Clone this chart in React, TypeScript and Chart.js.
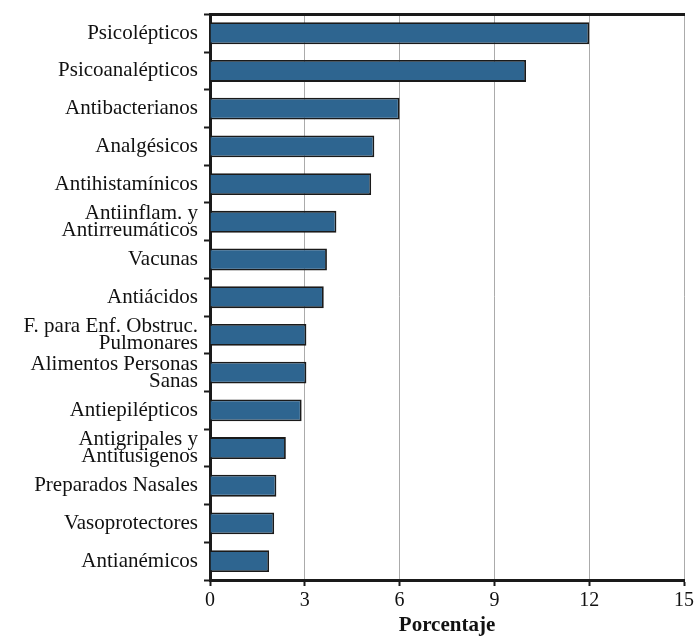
import React, { useEffect, useRef } from "react";
import { Chart, registerables } from "chart.js";

Chart.register(...registerables);

const categories: (string | string[])[] = [
  "Psicolépticos",
  "Psicoanalépticos",
  "Antibacterianos",
  "Analgésicos",
  "Antihistamínicos",
  ["Antiinflam. y", "Antirreumáticos"],
  "Vacunas",
  "Antiácidos",
  ["F. para Enf. Obstruc.", "Pulmonares"],
  ["Alimentos Personas", "Sanas"],
  "Antiepilépticos",
  ["Antigripales y", "Antitusigenos"],
  "Preparados Nasales",
  "Vasoprotectores",
  "Antianémicos",
];

const percentages = [12.0, 10.0, 6.0, 5.2, 5.1, 4.0, 3.7, 3.6, 3.05, 3.05, 2.9, 2.4, 2.1, 2.03, 1.87];

const xMin = 0;
const xMax = 15;
const xStep = 3;
const xTitle = "Porcentaje";

const FONT = "'Liberation Serif', 'Times New Roman', serif";

export default function App() {
  const ref = useRef<HTMLCanvasElement | null>(null);

  useEffect(() => {
    document.body.style.margin = "0";
    const canvas = ref.current;
    if (!canvas) return;
    const chart = new Chart(canvas, {
      type: "bar",
      data: {
        labels: categories,
        datasets: [
          {
            data: percentages,
            backgroundColor: "#2e6590",
            borderColor: "#1a1a1a",
            borderWidth: 1.8,
            barPercentage: 0.58,
            categoryPercentage: 1,
            xAxisID: "x",
          },
        ],
      },
      options: {
        indexAxis: "y",
        animation: false,
        responsive: true,
        maintainAspectRatio: false,
        layout: { padding: { left: 0, right: 15, top: 0, bottom: 0 } },
        plugins: {
          legend: { display: false },
          tooltip: { enabled: false },
        },
        scales: {
          x: {
            type: "linear",
            position: "bottom",
            min: xMin,
            max: xMax,
            ticks: {
              stepSize: xStep,
              color: "#111",
              font: { family: FONT, size: 20 },
              padding: 3,
            },
            grid: {
              color: "#ababab",
              lineWidth: 1,
              drawTicks: true,
              tickLength: 6,
              tickColor: "#1a1a1a",
              tickWidth: 2,
            },
            border: { display: true, color: "#1a1a1a", width: 3 },
            title: {
              display: true,
              text: xTitle,
              color: "#111",
              font: { family: FONT, size: 21, weight: "bold", lineHeight: 1 },
              padding: { top: 0, bottom: 1 },
            },
            afterFit: (scale: any) => {
              scale.height = 57;
            },
          },
          xTop: {
            type: "linear",
            position: "top",
            min: xMin,
            max: xMax,
            ticks: { display: false },
            grid: { display: false },
            border: { display: true, color: "#1a1a1a", width: 3 },
            afterFit: (scale: any) => {
              scale.height = 13;
            },
          },
          y: {
            type: "category",
            position: "left",
            ticks: {
              color: "#111",
              font: { family: FONT, size: 21, lineHeight: 0.8 },
              padding: 6,
              autoSkip: false,
            },
            grid: {
              offset: true,
              drawOnChartArea: false,
              drawTicks: true,
              tickLength: 6,
              tickColor: "#1a1a1a",
              tickWidth: 2,
            },
            border: { display: true, color: "#1a1a1a", width: 3 },
            afterFit: (scale: any) => {
              scale.width = 210;
            },
          },
        },
      } as any,
    });
    return () => chart.destroy();
  }, []);

  return (
    <div style={{ width: 699, height: 637, position: "relative" }}>
      <canvas ref={ref} />
    </div>
  );
}
